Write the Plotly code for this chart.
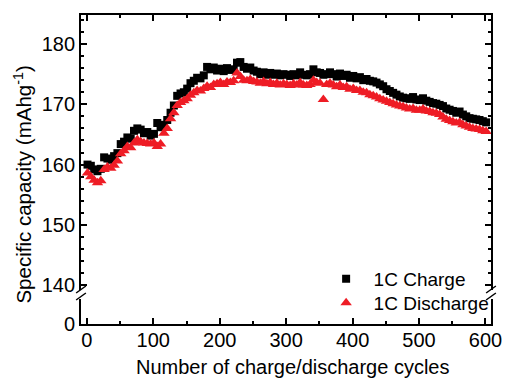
import plotly.graph_objects as go

# ---------------- data ----------------
cycles = list(range(1, 602, 5))

charge = [
    160.0, 159.8, 159.2, 158.9, 159.3, 161.2, 161.0, 160.8, 161.4, 161.9,
    163.4, 163.8, 164.5, 164.3, 165.6, 166.0, 165.8, 165.2, 165.4, 164.8,
    165.1, 166.9, 166.2, 166.6, 167.4, 168.6, 169.8, 171.4, 171.8, 172.0,
    172.6, 173.5, 173.9, 174.4, 174.3, 174.8, 176.2, 175.8, 176.1, 175.6,
    175.9, 175.5, 176.0, 175.7, 175.8, 176.9, 177.0, 176.2, 175.9, 176.1,
    175.6, 175.4, 175.0, 175.3, 174.9, 175.2, 174.9, 175.1, 174.8, 175.0,
    174.9, 174.7, 175.0, 174.8, 175.3, 174.9, 174.8, 175.0, 175.8, 175.3,
    175.2, 174.9, 175.0, 175.3, 175.0, 174.6, 175.1, 174.7, 174.9, 174.4,
    174.7, 174.3, 174.5, 174.0, 174.2, 173.9, 173.8, 173.6, 173.3, 173.0,
    172.5, 172.2, 171.9, 171.6, 171.3, 171.1, 171.0, 170.9, 171.2, 170.8,
    170.7, 171.0, 170.6, 170.4, 170.2, 170.1, 169.9, 169.7, 169.3, 169.1,
    168.9, 168.6, 168.8, 168.3, 168.0, 167.7, 167.6, 167.5, 167.4, 167.2,
    167.0,
]

discharge = [
    158.6, 158.0, 157.4, 157.0, 157.3, 159.2, 159.6, 159.4, 159.9, 160.6,
    161.8, 162.3, 163.0, 162.8, 163.6, 164.1, 163.8, 163.6, 163.5, 163.4,
    163.6, 163.0, 163.4, 165.2, 166.0, 167.6, 168.6, 169.8, 170.3, 170.6,
    170.9, 171.5, 171.9, 172.3, 172.2, 172.6, 173.0, 172.8, 173.3, 173.4,
    173.6, 173.3, 173.7, 173.6, 173.9, 175.2, 174.6, 174.0, 173.9, 174.1,
    173.8, 173.7, 173.5, 173.8, 173.4, 173.6, 173.3, 173.5, 173.2, 173.4,
    173.3, 173.1, 173.4, 173.2, 173.6, 173.2, 173.1, 173.3, 174.0, 173.6,
    173.5, 170.8, 173.3, 173.5, 173.2, 172.9, 173.2, 172.8, 172.9, 172.5,
    172.6, 172.3, 172.3, 172.0, 171.9, 171.6, 171.4, 171.2, 170.9, 170.7,
    170.5, 170.3, 170.1, 169.9, 169.7, 169.6, 169.4, 169.2, 169.3, 169.0,
    169.0, 169.2, 168.9, 168.8, 168.6, 168.5, 168.3, 167.9, 167.5, 167.3,
    167.1, 166.9, 167.0, 166.6, 166.4, 166.2, 166.0, 165.9, 165.8, 165.6,
    165.5,
]

x_ticks = [0, 100, 200, 300, 400, 500, 600]
y_ticks = [140, 150, 160, 170, 180]

# ---------------- styling ----------------
W, H = 512, 381
ML, MR, MT, MB = 81, 10, 15, 57
PW, PH = W - ML - MR, H - MT - MB
FONT = "Liberation Sans, Arial, sans-serif"
FS = 20
RED = "#ee1c25"
LW = 1.8


def px(xp):
    return (xp - ML) / PW


def py(yp):
    return (H - MB - yp) / PH


up_bottom = py(290)
low_top = py(299)

fig = go.Figure()

fig.add_trace(go.Scatter(
    x=cycles, y=charge, mode="markers", name="1C Charge",
    xaxis="x2", yaxis="y", legend="legend",
    marker=dict(symbol="square", size=8, color="black", line=dict(width=0)),
))
fig.add_trace(go.Scatter(
    x=cycles, y=discharge, mode="markers", name="1C Discharge",
    xaxis="x2", yaxis="y", legend="legend2",
    marker=dict(symbol="triangle-up", size=10, color=RED, line=dict(width=0)),
))
# empty trace so the bottom subplot (x / y2) is drawn
fig.add_trace(go.Scatter(x=[None], y=[None], xaxis="x", yaxis="y2",
                         showlegend=False, hoverinfo="skip"))

xr = [-8.8, 608.3]
common_x = dict(range=xr, showline=True, linecolor="black", linewidth=LW,
                ticks="inside", ticklen=6, tickwidth=1.5, tickcolor="black",
                tickvals=x_ticks, showgrid=False, zeroline=False,
                minor=dict(ticks="inside", ticklen=3, tickwidth=1.5,
                           tickcolor="black", dtick=50, tick0=0, showgrid=False))

leg_common = dict(xanchor="left", yanchor="top", bgcolor="rgba(0,0,0,0)",
                  borderwidth=0, font=dict(family=FONT, size=19),
                  itemwidth=45, tracegroupgap=0)

fig.update_layout(
    width=W, height=H,
    margin=dict(l=ML, r=MR, t=MT, b=MB, pad=0),
    paper_bgcolor="white", plot_bgcolor="white",
    font=dict(family=FONT, size=FS, color="black"),
    xaxis=dict(**common_x, anchor="y2", domain=[0, 1], side="bottom",
               ticktext=[str(v) for v in x_ticks], tickfont=dict(size=FS),
               ticklabelstandoff=-3),
    xaxis2=dict(**common_x, anchor="y", overlaying="x", side="top",
                showticklabels=False),
    yaxis=dict(domain=[up_bottom, 1], range=[139.2, 184.81], anchor="x2",
               showline=True, mirror="ticks", linecolor="black", linewidth=LW,
               ticks="inside", ticklen=6, tickwidth=1.5, tickcolor="black",
               tickvals=y_ticks, showgrid=False, zeroline=False,
               minor=dict(ticks="inside", ticklen=3, tickwidth=1.5,
                          tickcolor="black", dtick=2, tick0=0, showgrid=False),
               tickfont=dict(size=FS)),
    yaxis2=dict(domain=[0, low_top], range=[0, 4.0], anchor="x",
                showline=True, mirror=True, linecolor="black", linewidth=LW,
                ticks="", tickvals=[0], showgrid=False, zeroline=False,
                tickfont=dict(size=FS)),
    showlegend=True,
    legend=dict(x=px(325), y=py(260), **leg_common),
    legend2=dict(x=px(325), y=py(284), **leg_common),
)

# axis titles
fig.add_annotation(text="Number of charge/discharge cycles",
                   x=px(298), y=py(367), xref="paper", yref="paper",
                   showarrow=False, xanchor="center", yanchor="middle",
                   font=dict(family=FONT, size=FS))
fig.add_annotation(text="Specific capacity (mAhg<sup>-1</sup>)",
                   x=px(21), y=py(185), xref="paper", yref="paper",
                   showarrow=False, textangle=-90,
                   xanchor="center", yanchor="middle",
                   font=dict(family=FONT, size=FS + 0.5))

# axis break marks
for xc in (81, 502):
    for dy in (0, 7):
        fig.add_shape(type="line", xref="paper", yref="paper",
                      x0=px(xc - 5), y0=py(293 + dy),
                      x1=px(xc + 5), y1=py(286 + dy),
                      line=dict(color="black", width=1.5))

fig.write_html("out.html")
